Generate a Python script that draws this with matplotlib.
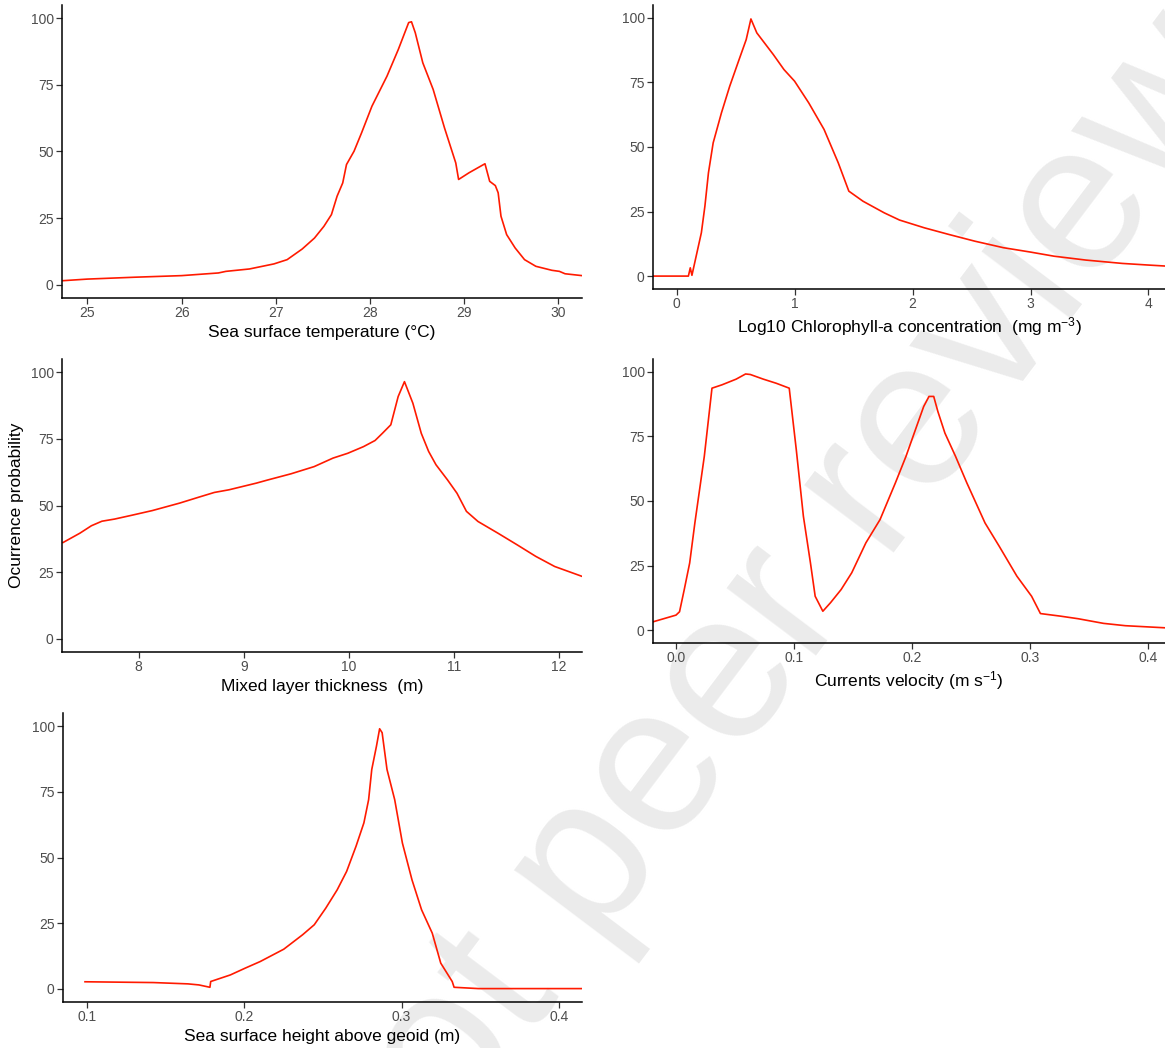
import matplotlib
matplotlib.use("Agg")
import matplotlib.pyplot as plt

plt.rcParams['font.family'] = ['Liberation Sans', 'DejaVu Sans']
plt.rcParams['mathtext.default'] = 'regular'

# Sea surface temperature
sst_x = [24.74, 25.0, 25.5, 26.0, 26.39, 26.47, 26.72, 26.98, 27.12, 27.28, 27.41, 27.51,
         27.59, 27.65, 27.71, 27.75, 27.83, 27.91, 28.02, 28.18, 28.30, 28.41, 28.44, 28.48,
         28.56, 28.67, 28.79, 28.91, 28.94, 29.05, 29.22, 29.27, 29.33, 29.36, 29.39, 29.45,
         29.54, 29.64, 29.76, 29.93, 30.01, 30.07, 30.25]
sst_y = [1.5, 2.1, 2.8, 3.4, 4.4, 5.0, 5.9, 7.8, 9.4, 13.4, 17.5, 21.9,
         26.3, 33.2, 38.2, 45.1, 50.1, 57.0, 67.0, 78.3, 88.3, 98.4, 98.7, 94.6,
         83.3, 73.3, 58.9, 45.7, 39.5, 42.0, 45.4, 38.8, 37.2, 34.5, 25.7, 18.8,
         13.8, 9.4, 6.9, 5.4, 5.0, 4.1, 3.4]

# Log10 chlorophyll-a
chl_x = [-0.2, 0.10, 0.116, 0.13, 0.16, 0.21, 0.24, 0.27, 0.31, 0.38, 0.45, 0.53, 0.59,
         0.63, 0.68, 0.82, 0.91, 1.0, 1.12, 1.25, 1.37, 1.46, 1.58, 1.76, 1.89, 2.10,
         2.31, 2.53, 2.77, 3.0, 3.2, 3.47, 3.78, 3.99, 4.14]
chl_y = [0, 0, 3.2, 0.3, 6.5, 16.8, 27.1, 40, 51.6, 63.2, 73.5, 83.9, 91.6,
         99.6, 94.2, 85.8, 80, 75.5, 67.1, 56.8, 43.9, 32.9, 29.0, 24.5, 21.7, 18.7,
         16.1, 13.5, 11.0, 9.3, 7.7, 6.2, 4.9, 4.3, 3.9]

# Mixed layer thickness
mld_x = [7.28, 7.44, 7.55, 7.65, 7.77, 7.93, 8.13, 8.39, 8.57, 8.72, 8.86, 9.12, 9.23,
         9.45, 9.67, 9.85, 9.99, 10.14, 10.25, 10.32, 10.40, 10.47, 10.53, 10.61, 10.69,
         10.76, 10.83, 10.94, 11.03, 11.12, 11.23, 11.42, 11.60, 11.78, 11.96, 12.22]
mld_y = [36.1, 39.6, 42.4, 44.1, 44.9, 46.3, 48.1, 50.9, 53.1, 54.9, 55.9, 58.4, 59.6,
         61.9, 64.6, 67.8, 69.6, 72.1, 74.4, 77.1, 80.3, 90.9, 96.5, 88.4, 77.1,
         70.3, 65.3, 59.6, 54.6, 47.8, 44.0, 39.6, 35.3, 30.9, 27.1, 23.4]

# Currents velocity
cur_x = [-0.0195, 0.0, 0.003, 0.007, 0.0116, 0.016, 0.024, 0.0305, 0.039, 0.051, 0.059,
         0.063, 0.074, 0.085, 0.096, 0.102, 0.108, 0.114, 0.118, 0.1245, 0.131, 0.140,
         0.149, 0.161, 0.173, 0.186, 0.195, 0.204, 0.210, 0.2145, 0.2185, 0.222, 0.228,
         0.237, 0.2466, 0.262, 0.274, 0.289, 0.3015, 0.309, 0.326, 0.341, 0.3625, 0.381, 0.414]
cur_y = [3.2, 5.8, 7.1, 15.7, 26.0, 41.5, 67.3, 93.7, 95, 97.2, 99.2,
         99, 97.2, 95.6, 93.7, 69.8, 44.1, 26, 13.1, 7.3, 10.6, 15.7,
         22.2, 33.8, 42.8, 57.0, 67.3, 78.9, 86.6, 90.5, 90.5, 84.7, 76.3,
         67.3, 57, 41.5, 32.5, 20.9, 13.1, 6.4, 5.4, 4.4, 2.6, 1.7, 0.9]

# Sea surface height above geoid
ssh_x = [0.0985, 0.142, 0.164, 0.171, 0.178, 0.1785, 0.191, 0.2005, 0.210, 0.225, 0.237,
         0.2444, 0.2517, 0.259, 0.265, 0.271, 0.276, 0.279, 0.281, 0.284, 0.286, 0.2876,
         0.2907, 0.2956, 0.3005, 0.3066, 0.3127, 0.3195, 0.3249, 0.3322, 0.3334, 0.349, 0.4146]
ssh_y = [2.7, 2.4, 1.9, 1.5, 0.6, 2.8, 5.3, 7.9, 10.4, 15.1, 20.6,
         24.4, 30.7, 37.7, 44.7, 54.3, 63.2, 72, 83.5, 92.4, 99, 97.5,
         83.5, 72, 55.5, 41.5, 30.1, 21.2, 9.8, 2.8, 0.6, 0.1, 0.1]

W, H = 1165, 1048
fig = plt.figure(figsize=(W / 100, H / 100), dpi=100)

# watermark behind everything
fig.text(835 / W, 1 - 540 / H, 'Not peer reviewed', fontsize=152, color='#EBEBEB',
         rotation=53, ha='center', va='center', rotation_mode='anchor', zorder=-10)


def make_ax(left, right, top, bottom):
    return fig.add_axes([left / W, 1 - bottom / H, (right - left) / W, (bottom - top) / H])


panels = [
    (make_ax(62, 582, 5, 298), sst_x, sst_y, (24.73, 30.25), [25, 26, 27, 28, 29, 30],
     ['25', '26', '27', '28', '29', '30'], 'Sea surface temperature (°C)'),
    (make_ax(653, 1165, 5, 289), chl_x, chl_y, (-0.2, 4.14), [0, 1, 2, 3, 4],
     ['0', '1', '2', '3', '4'], 'Log10 Chlorophyll-a concentration  (mg m$^{-3}$)'),
    (make_ax(62, 582, 359, 652), mld_x, mld_y, (7.27, 12.22), [8, 9, 10, 11, 12],
     ['8', '9', '10', '11', '12'], 'Mixed layer thickness  (m)'),
    (make_ax(653, 1165, 359, 643), cur_x, cur_y, (-0.0195, 0.4146), [0.0, 0.1, 0.2, 0.3, 0.4],
     ['0.0', '0.1', '0.2', '0.3', '0.4'], 'Currents velocity (m s$^{-1}$)'),
    (make_ax(63, 582, 713, 1002), ssh_x, ssh_y, (0.0845, 0.4148), [0.1, 0.2, 0.3, 0.4],
     ['0.1', '0.2', '0.3', '0.4'], 'Sea surface height above geoid (m)'),
]

for ax, x, y, xlim, xt, xtl, xlabel in panels:
    ax.set_facecolor('none')
    ax.plot(x, y, color='#FF1A00', lw=1.2)
    ax.set_xlim(*xlim)
    ax.set_ylim(-5, 105)
    ax.set_xticks(xt)
    ax.set_xticklabels(xtl)
    ax.set_yticks([0, 25, 50, 75, 100])
    ax.set_xlabel(xlabel, fontsize=12.5, color='black', labelpad=3)
    for s in ['top', 'right']:
        ax.spines[s].set_visible(False)
    for s in ['left', 'bottom']:
        ax.spines[s].set_linewidth(1.1)
    ax.tick_params(length=4, width=0.9, color='#333333', labelsize=10,
                   labelcolor='#4D4D4D', pad=2)

fig.text(17 / W, 1 - 505 / H, 'Ocurrence probability', rotation=90, fontsize=12.5,
         ha='center', va='center')

fig.savefig('out.png', dpi=100)
